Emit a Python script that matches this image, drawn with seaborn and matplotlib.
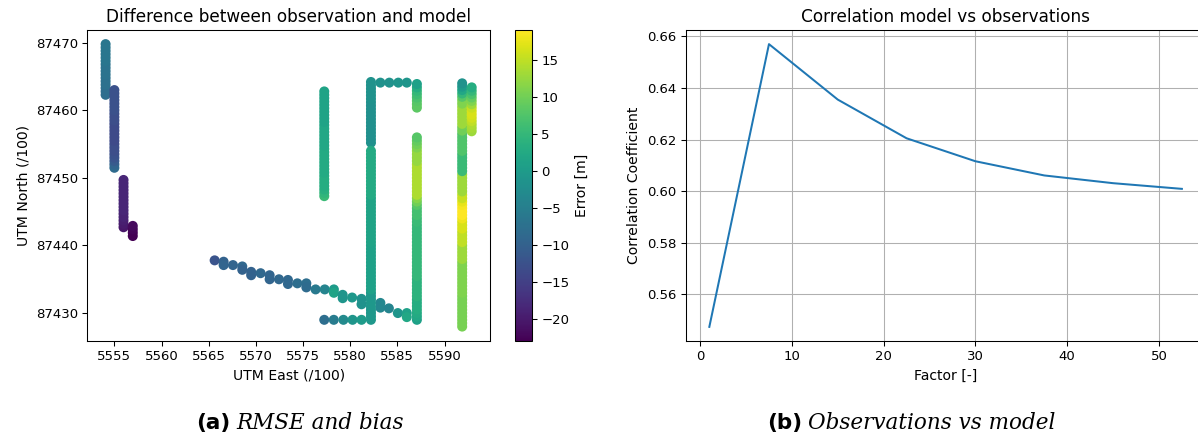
import numpy as np
import pandas as pd
import matplotlib
matplotlib.use("Agg")
import matplotlib.pyplot as plt
from matplotlib.colors import Normalize
from matplotlib.cm import ScalarMappable
import seaborn as sns

# ---------------------------------------------------------------------------
# Survey tracks: easting / northing (UTM, /100) and observation - model error [m]
# ---------------------------------------------------------------------------
seg1_east = 5554.07
seg1_north = [87462.3, 87462.8, 87463.3, 87463.8, 87464.3, 87464.8, 87465.3, 87465.8,
              87466.3, 87466.8, 87467.3, 87467.8, 87468.3, 87468.8, 87469.3, 87469.8]
seg1_err = [-8.0, -8.0, -8.0, -7.5, -7.5, -7.5, -7.0, -7.0,
            -7.0, -7.0, -6.5, -6.5, -6.5, -6.5, -6.5, -6.5]

seg2_east = 5555.0
seg2_north = [87451.5, 87452.0, 87452.5, 87453.0, 87453.5, 87454.0, 87454.5, 87455.0,
              87455.5, 87456.0, 87456.5, 87457.0, 87457.5, 87458.0, 87458.5, 87459.0,
              87459.5, 87460.0, 87460.5, 87461.0, 87461.5, 87462.0, 87462.5, 87463.0]
seg2_err = [-8.5, -9.5, -11.0, -12.0, -12.5, -13.0, -13.0, -13.0,
            -13.5, -13.5, -13.5, -13.5, -13.5, -13.5, -13.0, -13.0,
            -13.0, -12.5, -12.5, -12.5, -12.5, -12.5, -12.5, -12.5]

seg3_east = 5555.97
seg3_north = [87442.7, 87443.2, 87443.7, 87444.2, 87444.7, 87445.2, 87445.7, 87446.2,
              87446.7, 87447.2, 87447.7, 87448.2, 87448.7, 87449.2, 87449.7]
seg3_err = [-20.5, -20.0, -19.5, -19.0, -19.0, -18.5, -18.5, -18.5,
            -18.5, -18.5, -18.5, -18.5, -18.5, -18.5, -18.5]

seg4_east = 5556.95
seg4_north = [87441.4, 87441.9, 87442.4, 87442.9]
seg4_err = [-23.0, -23.0, -22.5, -22.0]

diag_east = [5565.63, 5566.58, 5566.58, 5567.57, 5568.56, 5568.56, 5569.5, 5569.5,
             5570.5, 5571.46, 5571.46, 5572.45, 5573.4, 5573.4, 5574.4, 5575.35,
             5575.35, 5576.33, 5577.3, 5578.27, 5578.27, 5579.2, 5579.2, 5580.2,
             5581.2, 5581.2, 5583.2, 5583.2, 5584.1, 5585.05, 5586.0, 5586.0]
diag_north = [87437.8, 87437.6, 87437.1, 87437.1, 87436.9, 87436.4, 87436.1, 87435.6,
              87435.9, 87435.6, 87435.0, 87435.0, 87434.9, 87434.3, 87434.4, 87434.4,
              87433.8, 87433.5, 87433.5, 87433.5, 87433.0, 87432.7, 87432.2, 87432.3,
              87432.1, 87431.3, 87431.5, 87430.8, 87430.7, 87430.0, 87430.0, 87429.4]
diag_err = [-12.0, -10.0, -9.5, -9.5, -9.0, -10.0, -10.0, -10.0,
            -9.0, -9.5, -9.5, -9.0, -9.0, -9.0, -8.0, -8.0,
            -8.5, -6.0, -4.0, 0.0, 1.5, -1.0, -1.0, -0.5,
            -1.5, -1.5, -3.5, -3.5, -4.0, -1.0, 1.0, 2.0]

south_row_north = 87429.0
south_row_east = [5577.25, 5578.26, 5579.28, 5580.25, 5581.2]
south_row_err = [-8.0, -5.5, -3.0, -1.0, 0.0]

col5577_east = 5577.25
col5577_north = [87447.3, 87447.8, 87448.3, 87448.8, 87449.3, 87449.8, 87450.3, 87450.8,
                 87451.3, 87451.8, 87452.3, 87452.8, 87453.3, 87453.8, 87454.3, 87454.8,
                 87455.3, 87455.8, 87456.3, 87456.8, 87457.3, 87457.8, 87458.3, 87458.8,
                 87459.3, 87459.8, 87460.3, 87460.8, 87461.3, 87461.8, 87462.3, 87462.8]
col5577_err = [5.5, 4.5, 3.5, 3.0, 3.0, 3.0, 3.0, 2.5,
               2.5, 2.5, 2.5, 2.5, 2.5, 2.5, 2.5, 2.0,
               2.0, 2.0, 2.0, 2.0, 2.0, 2.0, 1.5, 1.5,
               1.5, 1.5, 1.5, 1.5, 1.5, 1.5, 1.5, 1.5]

col5582_east = 5582.2
col5582n_north = [87455.2, 87455.7, 87456.2, 87456.7, 87457.2, 87457.7, 87458.2, 87458.7,
                  87459.2, 87459.7, 87460.2, 87460.7, 87461.2, 87461.7, 87462.2, 87462.7,
                  87463.2, 87463.7, 87464.2]
col5582n_err = [-1.5, -2.0, -2.0, -2.0, -2.0, -2.0, -2.0, -2.0,
                -2.0, -2.0, -2.0, -2.0, -2.0, -1.5, -1.5, -1.5,
                -1.5, -1.5, -1.5]
col5582s_north = [87429.0, 87429.5, 87430.0, 87430.5, 87431.0, 87431.5, 87432.0, 87432.5,
                  87433.0, 87433.5, 87434.0, 87434.5, 87435.0, 87435.5, 87436.0, 87436.5,
                  87437.0, 87437.5, 87438.0, 87438.5, 87439.0, 87439.5, 87440.0, 87440.5,
                  87441.0, 87441.5, 87442.0, 87442.5, 87443.0, 87443.5, 87444.0, 87444.5,
                  87445.0, 87445.5, 87446.0, 87446.5, 87447.0, 87447.5, 87448.0, 87448.5,
                  87449.0, 87449.5, 87450.0, 87450.5, 87451.0, 87451.5, 87452.0, 87452.5,
                  87453.0, 87453.5, 87454.0]
col5582s_err = [-0.5, -0.5, -0.5, -0.5, -0.5, -0.5, -0.5, -0.5,
                -0.5, 1.0, 1.0, 1.0, 1.0, 1.0, 1.0, 1.0,
                1.0, 1.0, 1.0, 1.0, 1.0, 1.0, 1.0, 1.5,
                1.5, 1.5, 1.5, 1.5, 1.5, 1.5, 1.5, 1.5,
                1.5, 1.5, 1.5, 1.5, 1.5, 2.5, 2.5, 2.5,
                2.5, 2.5, 2.5, 2.5, 2.5, 2.5, 2.5, 2.5,
                2.5, 2.5, 2.5]

north_row_north = 87464.1
north_row_east = [5583.2, 5584.15, 5585.1, 5586.0]
north_row_err = [-1.5, -1.5, -1.0, -1.0]

col5587_east = 5587.07
col5587n_north = [87460.4, 87460.9, 87461.4, 87461.9, 87462.4, 87462.9, 87463.4, 87463.9]
col5587n_err = [8.5, 8.5, 8.0, 7.0, 6.0, 5.0, 3.0, 1.0]
col5587s_north = [87429.0, 87429.5, 87430.0, 87430.5, 87431.0, 87431.5, 87432.0, 87432.5,
                  87433.0, 87433.5, 87434.0, 87434.5, 87435.0, 87435.5, 87436.0, 87436.5,
                  87437.0, 87437.5, 87438.0, 87438.5, 87439.0, 87439.5, 87440.0, 87440.5,
                  87441.0, 87441.5, 87442.0, 87442.5, 87443.0, 87443.5, 87444.0, 87444.5,
                  87445.0, 87445.5, 87446.0, 87446.5, 87447.0, 87447.5, 87448.0, 87448.5,
                  87449.0, 87449.5, 87450.0, 87450.5, 87451.0, 87451.5, 87452.0, 87452.5,
                  87453.0, 87453.5, 87454.0, 87454.5, 87455.0, 87455.5, 87456.0]
col5587s_err = [1.0, 2.0, 2.5, 3.0, 3.0, 3.0, 3.0, 4.0,
                4.0, 4.0, 4.0, 4.0, 4.0, 5.0, 5.0, 5.0,
                5.0, 5.0, 5.0, 5.0, 5.0, 5.0, 5.0, 5.0,
                5.0, 5.0, 5.0, 5.0, 5.0, 5.5, 5.5, 6.5,
                6.5, 6.5, 8.0, 10.0, 11.5, 14.0, 14.0, 14.0,
                14.0, 14.0, 14.0, 14.0, 14.0, 14.0, 14.0, 12.5,
                12.5, 12.5, 12.5, 11.0, 10.0, 9.0, 8.0]

col5592_east = 5591.87
col5592_north = [87428.0, 87428.5, 87429.0, 87429.5, 87430.0, 87430.5, 87431.0, 87431.5,
                 87432.0, 87432.5, 87433.0, 87433.5, 87434.0, 87434.5, 87435.0, 87435.5,
                 87436.0, 87436.5, 87437.0, 87437.5, 87438.0, 87438.5, 87439.0, 87439.5,
                 87440.0, 87440.5, 87441.0, 87441.5, 87442.0, 87442.5, 87443.0, 87443.5,
                 87444.0, 87444.5, 87445.0, 87445.5, 87446.0, 87446.5, 87447.0, 87447.5,
                 87448.0, 87448.5, 87449.0, 87449.5, 87450.0, 87450.5, 87451.0, 87451.5,
                 87452.0, 87452.5, 87453.0, 87453.5, 87454.0, 87454.5, 87455.0, 87455.5,
                 87456.0, 87456.5, 87457.0, 87457.5, 87458.0, 87458.5, 87459.0, 87459.5,
                 87460.0, 87460.5, 87461.0, 87461.5, 87462.0, 87462.5, 87463.0, 87463.5,
                 87464.0]
col5592_err = [10.5, 10.5, 10.5, 10.5, 10.5, 10.5, 10.5, 10.5,
               10.5, 10.5, 11.0, 11.0, 11.0, 11.0, 11.0, 11.0,
               11.0, 11.0, 11.0, 11.0, 13.0, 13.0, 13.0, 13.0,
               13.0, 15.0, 15.0, 15.0, 15.0, 16.5, 16.5, 16.5,
               18.0, 19.0, 19.1, 19.0, 18.5, 17.5, 15.5, 15.5,
               13.0, 13.0, 13.0, 13.0, 13.0, 13.0, 5.5, 5.5,
               5.5, 5.5, 5.5, 5.5, 7.5, 7.5, 7.5, 7.5,
               7.5, 7.5, 10.0, 10.0, 13.0, 13.0, 13.0, 13.0,
               13.0, 13.0, 11.0, 11.0, 8.0, 5.0, 2.0, 0.0,
               -1.5]

col5593_east = 5592.88
col5593_north = [87456.9, 87457.4, 87457.9, 87458.4, 87458.9, 87459.4, 87459.9,
                 87460.4, 87460.9, 87461.4, 87461.9, 87462.4, 87462.9, 87463.4]
col5593_err = [13.0, 13.5, 14.0, 15.0, 16.0, 16.5, 16.5,
               15.5, 13.0, 11.0, 9.0, 7.0, 5.0, 3.0]

# Correlation coefficient versus scaling factor
factor = [1.0, 7.5, 15.0, 22.5, 30.0, 37.5, 45.0, 52.5]
correlation = [0.5474, 0.657, 0.6355, 0.6205, 0.6116, 0.6061, 0.6031, 0.6009]


def track(east, north, err):
    n = len(err)
    return pd.DataFrame({
        "east": np.broadcast_to(np.asarray(east, dtype=float), (n,)),
        "north": np.broadcast_to(np.asarray(north, dtype=float), (n,)),
        "error": np.asarray(err, dtype=float),
    })


survey = pd.concat([
    track(seg1_east, seg1_north, seg1_err),
    track(seg2_east, seg2_north, seg2_err),
    track(seg3_east, seg3_north, seg3_err),
    track(seg4_east, seg4_north, seg4_err),
    track(diag_east, diag_north, diag_err),
    track(south_row_east, south_row_north, south_row_err),
    track(col5577_east, col5577_north, col5577_err),
    track(col5582_east, col5582n_north, col5582n_err),
    track(col5582_east, col5582s_north, col5582s_err),
    track(north_row_east, north_row_north, north_row_err),
    track(col5587_east, col5587n_north, col5587n_err),
    track(col5587_east, col5587s_north, col5587s_err),
    track(col5592_east, col5592_north, col5592_err),
    track(col5593_east, col5593_north, col5593_err),
], ignore_index=True)

# ---------------------------------------------------------------------------
plt.rcParams.update({
    "font.size": 9.5,
    "axes.titlesize": 12.2,
    "axes.labelsize": 10.1,
    "xtick.labelsize": 9.5,
    "ytick.labelsize": 9.5,
    "axes.linewidth": 0.76,
    "xtick.major.width": 0.76,
    "ytick.major.width": 0.76,
    "xtick.major.size": 3.3,
    "ytick.major.size": 3.3,
})

W, H = 1198, 437
fig = plt.figure(figsize=(W / 100, H / 100), dpi=100)


def px_axes(left, top, right, bottom):
    return fig.add_axes([left / W, 1 - bottom / H, (right - left) / W, (bottom - top) / H])


ax1 = px_axes(87.3, 30, 490, 340.7)
cax = px_axes(515, 30, 531.7, 340.7)
ax2 = px_axes(685.7, 30, 1205.5, 341)

# Map of the error along the tracks
norm = Normalize(vmin=survey["error"].min(), vmax=survey["error"].max())
sns.scatterplot(data=survey, x="east", y="north", hue="error", palette="viridis",
                hue_norm=norm, s=52, linewidth=0, legend=False, ax=ax1)
ax1.ticklabel_format(useOffset=False, style="plain")
ax1.set_title("Difference between observation and model")
ax1.set_xlabel("UTM East (/100)")
ax1.set_ylabel("UTM North (/100)")

cb = fig.colorbar(ScalarMappable(norm=norm, cmap="viridis"), cax=cax)
cb.outline.set_linewidth(0.76)
cb.set_label("Error [m]")

# Correlation curve
sns.lineplot(x=factor, y=correlation, color="#1f77b4", linewidth=1.45, ax=ax2)
ax2.grid(True, color="#b0b0b0", linewidth=0.76)
ax2.set_axisbelow(True)
ax2.set_yticks([0.56, 0.58, 0.60, 0.62, 0.64, 0.66])
ax2.set_title("Correlation model vs observations")
ax2.set_xlabel("Factor [-]")
ax2.set_ylabel("Correlation Coefficient")

# Sub-figure captions
fig.canvas.draw()
renderer = fig.canvas.get_renderer()
for x_px, tag, caption in [(196, "(a)", "RMSE and bias"), (767, "(b)", "Observations vs model")]:
    y = 1 - 429 / H
    t = fig.text(x_px / W, y, tag, fontsize=15.5, fontweight="bold",
                 family="DejaVu Sans", va="baseline", ha="left")
    bb = t.get_window_extent(renderer)
    fig.text((bb.x1 + 6) / W, y, caption, fontsize=15.5, style="italic",
             family="DejaVu Serif", va="baseline", ha="left")

fig.savefig("out.png", dpi=100)
